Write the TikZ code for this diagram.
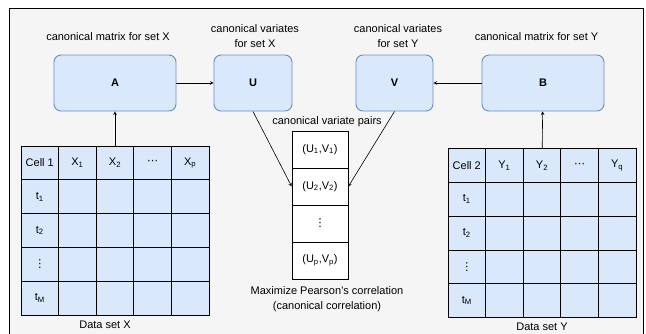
\documentclass[tikz,border=0pt]{standalone}
\usepackage{fontspec}
\setmainfont{Liberation Sans}
\newfontfamily\dotsfont{DejaVu Sans}
\usetikzlibrary{arrows}
\definecolor{boxfill}{HTML}{DAE8FC}
\definecolor{boxline}{HTML}{6C8EBF}
\definecolor{bgfill}{HTML}{F5F5F5}

\begin{document}
\begin{tikzpicture}[
                > = stealth, % arrow head style
                x = 1pt, y = -1pt, % pixel units, y going down
                node distance = 37pt, % height of one pair row
                font = \fontsize{11}{15}\selectfont,
                semithick % line style
            ]

            \tikzstyle{varbox}=[
            draw = boxline,
            fill = boxfill,
            line width = 0.9pt,
            rounded corners = 7pt,
            minimum height = 56pt,
            font = \fontsize{11}{15}\selectfont\bfseries
            ]
            \tikzstyle{cell}=[
            draw = black,
            fill = boxfill,
            line width = 0.8pt,
            minimum width = 37.6pt,
            minimum height = 33.8pt,
            inner sep = 0pt
            ]
            \tikzstyle{pair}=[
            draw = black,
            fill = white,
            line width = 0.7pt,
            minimum width = 56pt,
            minimum height = 37pt,
            inner sep = 0pt
            ]
            \tikzstyle{caption}=[align = center, inner sep = 1pt]

            \useasboundingbox (0,0) rectangle (646,333);
            \clip (0,0) rectangle (646,333);
            \fill[bgfill] (9,8) rectangle (643,345);
            \draw[thin] (9,8) rectangle (643,345);

            % canonical matrices and variates
            \node[varbox, minimum width = 122pt] (A) at (115,83) {A};
            \node[varbox, minimum width = 78pt] (U) at (253,83) {U};
            \node[varbox, minimum width = 77pt] (V) at (394.5,83) {V};
            \node[varbox, minimum width = 122pt] (B) at (543,83) {B};

            \node[caption] (capA) at (108,37) {canonical matrix for set X};
            \node[caption] (capU) at (255,36.5) {canonical variates\\for set X};
            \node[caption] (capV) at (398,36.5) {canonical variates\\for set Y};
            \node[caption] (capB) at (536.5,37) {canonical matrix for set Y};

            % data set X
            \foreach \c/\txt in {0/Cell 1, 1/X\textsubscript{1}, 2/X\textsubscript{2}, 3/{\dotsfont ⋯}, 4/X\textsubscript{p}}
                \node[cell] (x0\c) at ({39.8 + 37.6*\c}, 162.9) {\txt};
            \foreach \r/\txt in {1/t\textsubscript{1}, 2/t\textsubscript{2}, 3/{\dotsfont ⋮}, 4/t\textsubscript{M}}
                \node[cell] (x\r0) at (39.8, {162.9 + 33.8*\r}) {\txt};
            \foreach \r in {1,...,4}
                \foreach \c in {1,...,4}
                    \node[cell] (x\r\c) at ({39.8 + 37.6*\c}, {162.9 + 33.8*\r}) {};
            \node[caption] (capX) at (105,325) {Data set X};

            % data set Y
            \foreach \c/\txt in {0/Cell 2, 1/Y\textsubscript{1}, 2/Y\textsubscript{2}, 3/{\dotsfont ⋯}, 4/Y\textsubscript{q}}
                \node[cell] (y0\c) at ({466.8 + 37.6*\c}, 165.4) {\txt};
            \foreach \r/\txt in {1/t\textsubscript{1}, 2/t\textsubscript{2}, 3/{\dotsfont ⋮}, 4/t\textsubscript{M}}
                \node[cell] (y\r0) at (466.8, {165.4 + 33.8*\r}) {\txt};
            \foreach \r in {1,...,4}
                \foreach \c in {1,...,4}
                    \node[cell] (y\r\c) at ({466.8 + 37.6*\c}, {165.4 + 33.8*\r}) {};
            \node[caption] (capY) at (542,326.5) {Data set Y};

            % canonical variate pairs
            \node[pair] (p1) at (320,149.5) {(U\textsubscript{1},V\textsubscript{1})};
            \node[pair] (p2) [below of=p1] {(U\textsubscript{2},V\textsubscript{2})};
            \node[pair] (p3) [below of=p2] {\dotsfont ⋮};
            \node[pair] (p4) [below of=p3] {(U\textsubscript{p},V\textsubscript{p})};
            \node[caption] (capP) at (327,122) {canonical variate pairs};
            \node[caption] (capM) at (327,299.5) {Maximize Pearson's correlation\\(canonical correlation)};

            \path[->] (A) edge (U);
            \path[->] (B) edge (V);
            \path[->] (x02) edge (A);
            \path[->] (y02) edge (B);
            \path[->] (U.south) edge (p2.west);
            \path[->] (V.south) edge (p2.east);
        \end{tikzpicture}
\end{document}
